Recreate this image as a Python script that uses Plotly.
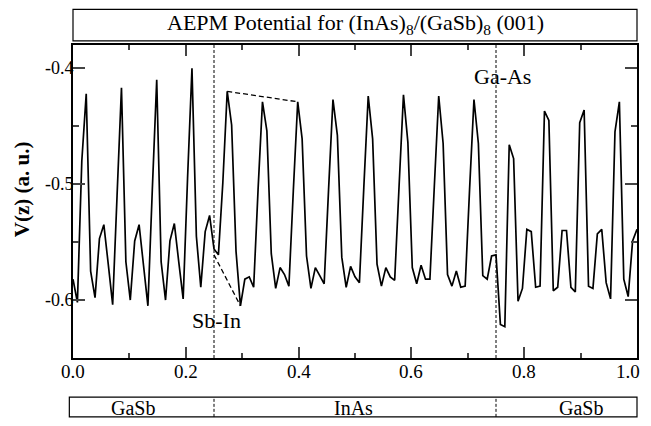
import plotly.graph_objects as go

z = [i / 128 for i in range(129)]
v = [
    -0.582, -0.602, -0.480, -0.422, -0.575, -0.598, -0.547, -0.535,
    -0.569, -0.604, -0.510, -0.417, -0.567, -0.600, -0.549, -0.535,
    -0.570, -0.605, -0.505, -0.410, -0.567, -0.600, -0.549, -0.534,
    -0.567, -0.599, -0.495, -0.400, -0.545, -0.589, -0.541, -0.527,
    -0.556, -0.561, -0.499, -0.420, -0.449, -0.558, -0.605, -0.582,
    -0.580, -0.589, -0.505, -0.429, -0.454, -0.560, -0.590, -0.572,
    -0.578, -0.588, -0.506, -0.429, -0.461, -0.562, -0.590, -0.572,
    -0.579, -0.586, -0.505, -0.427, -0.458, -0.563, -0.589, -0.571,
    -0.580, -0.585, -0.503, -0.424, -0.461, -0.569, -0.588, -0.572,
    -0.580, -0.583, -0.502, -0.423, -0.464, -0.572, -0.586, -0.570,
    -0.582, -0.582, -0.502, -0.424, -0.465, -0.578, -0.588, -0.575,
    -0.589, -0.588, -0.505, -0.427, -0.465, -0.579, -0.582, -0.562,
    -0.561, -0.621, -0.623, -0.466, -0.478, -0.601, -0.590, -0.539,
    -0.541, -0.589, -0.588, -0.437, -0.445, -0.592, -0.589, -0.540,
    -0.540, -0.589, -0.593, -0.447, -0.436, -0.588, -0.590, -0.543,
    -0.539, -0.585, -0.599, -0.455, -0.429, -0.582, -0.597, -0.549,
    -0.539,
]

interfaces = [0.25, 0.75]
layers = ["GaSb", "InAs", "GaSb"]
layer_label_x = [0.106, 0.498, 0.900]

x_ticks = [0.0, 0.2, 0.4, 0.6, 0.8, 1.0]
y_ticks = [-0.6, -0.5, -0.4]
y_ticktext = ["-0.6", "-0.5", "-0.4"]

SERIF = "Liberation Serif, Times New Roman, serif"


def text_font(size):
    return dict(family=SERIF, size=size, color="black")


fig = go.Figure()
fig.add_trace(go.Scatter(x=z, y=v, mode="lines",
                         line=dict(color="black", width=1.7), showlegend=False))

# interface markers
for xi in interfaces:
    fig.add_vline(x=xi, line_dash="3px,2px", line_color="black", line_width=1)

# guide lines: InAs peak drop after Sb-In, valley near Sb-In
fig.add_shape(type="line", x0=z[35], y0=v[35], x1=z[51], y1=v[51],
              line=dict(color="black", width=1.3, dash="5px,3px"))
fig.add_shape(type="line", x0=z[32], y0=v[33], x1=z[38], y1=v[38],
              line=dict(color="black", width=1.3, dash="5px,3px"))

fig.add_annotation(x=0.7615, y=-0.407, text="Ga-As", showarrow=False, font=text_font(22))
fig.add_annotation(x=0.254, y=-0.618, text="Sb-In", showarrow=False, font=text_font(22))

# tick labels as annotations so they sit tight to the axes like the original
for t in x_ticks:
    fig.add_annotation(xref="x", yref="paper", x=t, y=-0.043, text=f"{t:.1f}",
                       xanchor="right" if t == x_ticks[-1] else "center", yanchor="middle",
                       xshift=5 if t == x_ticks[-1] else 0, showarrow=False, font=text_font(19))
for t, label in zip(y_ticks, y_ticktext):
    fig.add_annotation(xref="paper", yref="y", x=0, y=t, text=label, xanchor="right",
                       yanchor="middle", xshift=3, showarrow=False, font=text_font(18))

# title box
fig.add_shape(type="rect", xref="paper", yref="paper", x0=0, x1=1, y0=1.013, y1=1.114,
              line=dict(color="black", width=1.2), fillcolor="white")
fig.add_annotation(xref="paper", yref="paper", x=0.5, y=1.066, xanchor="center", yanchor="middle",
                   showarrow=False,
                   text="AEPM Potential for (InAs)<sub>8</sub>/(GaSb)<sub>8</sub> (001)",
                   font=text_font(22))

# layer bar below the plot
fig.add_shape(type="rect", xref="paper", yref="paper", x0=-0.0065, x1=1, y0=-0.188, y1=-0.125,
              line=dict(color="black", width=1.2))
for xi in interfaces:
    fig.add_shape(type="line", xref="x", yref="paper", x0=xi, x1=xi, y0=-0.188, y1=-0.125,
                  line=dict(color="black", width=1, dash="3px,2px"))
for name, lx in zip(layers, layer_label_x):
    fig.add_annotation(xref="paper", yref="paper", x=lx, y=-0.160, xanchor="center",
                       yanchor="middle", text=name, showarrow=False, font=text_font(20))

fig.add_annotation(xref="paper", yref="paper", x=-0.09, y=0.54, xanchor="center", yanchor="middle",
                   text="<b>V(z) (a. u.)</b>", textangle=-90, showarrow=False, font=text_font(21))

fig.update_xaxes(range=[0, 1], tickvals=x_ticks, showticklabels=False,
                 ticks="inside", ticklen=11, tickwidth=1.5, mirror="allticks",
                 minor=dict(dtick=0.1, ticks="inside", ticklen=5, tickwidth=1.5),
                 showline=True, linewidth=2, linecolor="black", showgrid=False, zeroline=False)
fig.update_yaxes(range=[-0.65, -0.38], tickvals=y_ticks, showticklabels=False,
                 ticks="inside", ticklen=12, tickwidth=1.5, mirror="allticks",
                 minor=dict(tickvals=[-0.55, -0.45], ticks="inside", ticklen=6, tickwidth=1.5),
                 showline=True, linewidth=2, linecolor="black", showgrid=False, zeroline=False)

# the page body adds 8px round the figure, so keep figure + margins at 651x426
fig.update_layout(width=635, height=410, margin=dict(l=65, r=4, t=37, b=60),
                  plot_bgcolor="white", paper_bgcolor="white", showlegend=False)

fig.write_html("out.html")
